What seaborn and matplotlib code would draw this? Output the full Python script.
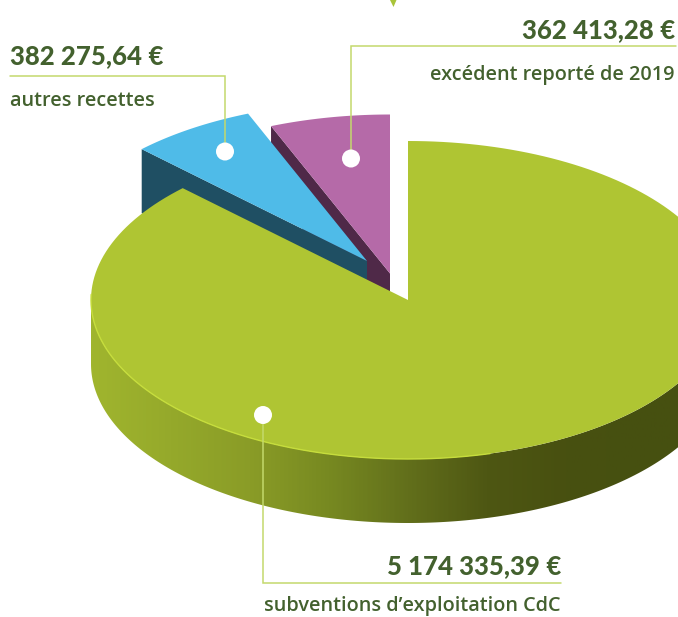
import matplotlib

matplotlib.use("Agg")

import matplotlib.pyplot as plt
import numpy as np
import seaborn as sns
from matplotlib.patches import Circle, Polygon


LABELS = ["subventions d\u2019exploitation CdC", "autres recettes", "excédent reporté de 2019"]
AMOUNTS = [5174335.39, 382275.64, 362413.28]
AMOUNT_TEXT = ["5 174 335,39\u202f€", "382 275,64\u202f€", "362 413,28\u202f€"]

TOP_COLORS = ["#afc533", "#4fbbe8", "#b56aa8"]
WALL_COLORS = [None, "#1f4f63", "#4f2948"]
SIDE_STOPS = ["#a0b52e", "#95a92b", "#8a9c27", "#778921", "#626f1b", "#4e5713", "#485010", "#465010", "#465010"]
TEXT_COLOR = "#43612e"
LINE_COLOR = "#c3d96c"

CENTERS = [(408, 300), (367, 261), (390, 273.5)]
RX, RY, DEPTH = 317, 159, 64
WIDTH, HEIGHT = 678, 617


def ellipse_points(center, start, stop):
    t = np.radians(np.linspace(start, stop, 200))
    return np.column_stack([center[0] + RX * np.sin(t), center[1] - RY * np.cos(t)])


def slice_angles(amounts):
    edges = np.cumsum([0] + list(amounts)) / sum(amounts) * 360
    return list(zip(edges[:-1], edges[1:]))


def draw_side(ax, center):
    palette = sns.blend_palette(SIDE_STOPS, n_colors=400)
    image = ax.imshow(
        np.array(palette)[None, :, :],
        extent=(center[0] - RX, center[0] + RX, center[1] + RY + DEPTH, center[1] - RY),
        aspect="auto",
        zorder=1,
    )
    rim = ellipse_points(center, 90, 270)
    outline = np.vstack([rim, rim[::-1] + [0, DEPTH]])
    clip = Polygon(outline, transform=ax.transData, fill=False, edgecolor="none")
    ax.add_patch(clip)
    image.set_clip_path(clip)


def draw_wall(ax, center, edge, color, zorder):
    p = ellipse_points(center, edge, edge)[0]
    points = [p, center, (center[0], center[1] + DEPTH), (p[0], p[1] + DEPTH)]
    ax.add_patch(Polygon(points, facecolor=color, edgecolor="none", zorder=zorder))


def draw_top(ax, center, start, stop, color, zorder):
    points = np.vstack([[center], ellipse_points(center, start, stop)])
    ax.add_patch(Polygon(points, facecolor=color, edgecolor="none", zorder=zorder))


def leader(ax, xs, ys, dot):
    ax.plot(xs, ys, color=LINE_COLOR, linewidth=1.1, solid_joinstyle="miter", zorder=6)
    ax.add_patch(Circle(dot, 9, facecolor="white", edgecolor="none", zorder=7))


def main():
    sns.set_theme(style="white")
    plt.rcParams["font.family"] = ["Open Sans", "DejaVu Sans"]

    fig = plt.figure(figsize=(WIDTH / 100, HEIGHT / 100), dpi=100)
    ax = fig.add_axes([0, 0, 1, 1])

    angles = slice_angles(AMOUNTS)

    # purple first, blue over it, green over everything
    draw_wall(ax, CENTERS[2], angles[2][0], WALL_COLORS[2], 2)
    draw_top(ax, CENTERS[2], *angles[2], TOP_COLORS[2], 3)
    draw_wall(ax, CENTERS[1], angles[1][0], WALL_COLORS[1], 3.5)
    draw_top(ax, CENTERS[1], *angles[1], TOP_COLORS[1], 4)
    draw_side(ax, CENTERS[0])
    draw_top(ax, CENTERS[0], *angles[0], TOP_COLORS[0], 5)

    # thin light rim on the lit side of the green slice
    rim = ellipse_points(CENTERS[0], 165, 272)
    ax.plot(rim[:, 0], rim[:, 1], color="#c6dd3c", linewidth=1, zorder=5.5)

    leader(ax, [10, 225, 225], [75.5, 75.5, 151], (225, 151.5))
    leader(ax, [676, 351, 351], [45.5, 45.5, 158], (351, 158.5))
    leader(ax, [263, 263, 561], [415, 582.5, 582.5], (263, 415))

    ax.add_patch(Polygon([(390, 0), (396.5, 0), (393.5, 7)], facecolor="#a9c43a", edgecolor="none", zorder=6))

    head = {"color": TEXT_COLOR, "family": ["Lato", "DejaVu Sans"], "fontweight": "black", "fontsize": 18.5, "va": "baseline"}
    body = {"color": TEXT_COLOR, "fontweight": "semibold", "fontsize": 14.3, "va": "baseline"}
    ax.text(10, 64, AMOUNT_TEXT[1], ha="left", **head)
    ax.text(10, 106.5, LABELS[1], ha="left", **body)
    ax.text(675, 38, AMOUNT_TEXT[2], ha="right", **head)
    ax.text(675, 80, LABELS[2], ha="right", **body)
    ax.text(561, 574, AMOUNT_TEXT[0], ha="right", **head)
    ax.text(561, 611, LABELS[0], ha="right", **body)

    ax.set_xlim(0, WIDTH)
    ax.set_ylim(HEIGHT, 0)
    ax.axis("off")
    fig.savefig("out.png", dpi=100, facecolor="white")
    plt.close(fig)


if __name__ == "__main__":
    main()
